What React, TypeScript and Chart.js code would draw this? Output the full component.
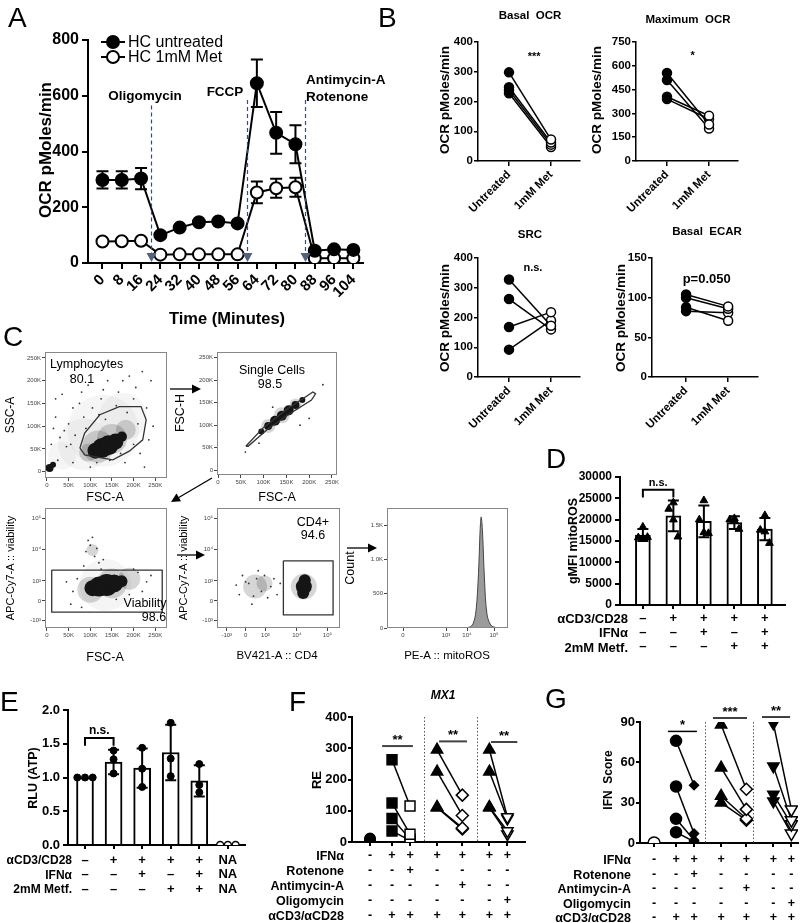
import React, { useEffect, useRef } from 'react';
import { Chart, registerables } from 'chart.js';

Chart.register(...registerables);
const FONT = "'Liberation Sans', Arial, Helvetica, sans-serif";
Chart.defaults.font.family = FONT;
Chart.defaults.color = '#000';

/* ---------------- Panel A ---------------- */
const A_TIMES = [0, 8, 16, 24, 32, 40, 48, 56, 64, 72, 80, 88, 96, 104];
const A_UNTREATED = [298, 298, 303, 100, 127, 146, 149, 142, 645, 467, 426, 44, 49, 47];
const A_UNTREATED_SD = [31, 31, 38, 0, 0, 0, 0, 0, 85, 75, 68, 0, 0, 0];
const A_MET = [77, 78, 80, 30, 31, 31, 31, 31, 253, 268, 272, 17, 17, 17];
const A_MET_SD = [0, 0, 0, 0, 0, 0, 0, 0, 39, 34, 34, 0, 0, 0];
const A_INJECT_TIMES = [20, 60, 84];
const A_INJECT_TOPS = [565, 585, 585];
const A_SERIES = ['HC untreated', 'HC 1mM Met'];

/* ---------------- Panel B ---------------- */
const B_GROUPS = ['Untreated', '1mM Met'];
const B_BASAL_UNT = [298, 248, 238, 228];
const B_BASAL_MET = [72, 62, 55, 47];
const B_MAX_UNT = [555, 510, 405, 390];
const B_MAX_MET = [230, 205, 285, 265];
const B_SRC_UNT = [328, 262, 168, 92];
const B_SRC_MET = [172, 160, 218, 190];
const B_ECAR_UNT = [104, 100, 88, 83];
const B_ECAR_MET = [89, 86, 71, 81];

/* ---------------- Panel C (flow) ---------------- */
const LIN_TICKS = [0, 50, 100, 150, 200, 250];
const LIN_LABELS = ['0', '50K', '100K', '150K', '200K', '250K'];
const LOG_TICKS = [-0.6, 0, 0.63, 1.63, 2.6];
const LOG_LABELS = ['-10³', '0', '10³', '10⁴', '10⁵'];
const HIST_X_TICKS = [0, 4.3, 6.4, 9.1];
const HIST_X_LABELS = ['0', '10³', '10⁴', '10⁵'];
const HIST_Y_TICKS = [0, 500, 1000, 1500];
const HIST_Y_LABELS = ['0', '500', '1.0K', '1.5K'];

const C1_HALO = [{ x: 130, y: 90, r: 36 }, { x: 85, y: 60, r: 26 }, { x: 175, y: 120, r: 24 }, { x: 35, y: 35, r: 14 }];
const C1_MID = [{ x: 118, y: 55, r: 16 }, { x: 150, y: 72, r: 15 }, { x: 182, y: 92, r: 10 }, { x: 95, y: 42, r: 9 }];
const C1_CORE = [{ x: 112, y: 46, r: 8 }, { x: 127, y: 52, r: 10 }, { x: 142, y: 58, r: 10 }, { x: 158, y: 66, r: 8 }, { x: 173, y: 77, r: 5 }, { x: 6, y: 8, r: 4 }, { x: 14, y: 15, r: 3 }];
const C1_DOTS = [[20, 120], [35, 170], [55, 210], [75, 150], [95, 190], [110, 230], [140, 200], [165, 175], [200, 160], [230, 140], [245, 100], [215, 40], [180, 20], [60, 20], [30, 75], [50, 105], [85, 120], [125, 160], [190, 210], [10, 60], [70, 230], [240, 200], [150, 240], [100, 10], [225, 10], [60, 140], [45, 55], [120, 125], [205, 185], [15, 95], [25, 25], [40, 90], [65, 80], [80, 175], [105, 140], [135, 115], [160, 145], [185, 130], [210, 105], [235, 70], [200, 60], [170, 40], [145, 25], [115, 20], [90, 95], [55, 60], [20, 160], [130, 180], [175, 200], [220, 220]];
const C1_GATE = [[76, 52], [87, 85], [122, 125], [167, 143], [217, 143], [229, 114], [221, 70], [190, 45], [152, 26], [87, 37], [76, 52]];

const C2_MID = [{ x: 110, y: 98, r: 7 }, { x: 140, y: 122, r: 8 }, { x: 170, y: 146, r: 6 }];
const C2_CORE = [{ x: 95, y: 86, r: 3 }, { x: 110, y: 98, r: 4 }, { x: 125, y: 110, r: 5 }, { x: 140, y: 121, r: 5 }, { x: 155, y: 133, r: 5 }, { x: 170, y: 145, r: 4 }, { x: 185, y: 156, r: 3 }];
const C2_DOTS = [[200, 115], [60, 40], [230, 190], [180, 100], [120, 140], [90, 60]];
const C2_GATE = [[61, 53], [100, 95], [150, 135], [195, 165], [208, 174], [214, 170], [205, 156], [160, 127], [110, 92], [66, 53], [61, 53]];

const C3_HALO = [{ x: 135, y: 0.5, r: 26 }];
const C3_MID = [{ x: 100, y: 0.35, r: 13 }, { x: 150, y: 0.55, r: 15 }, { x: 190, y: 0.7, r: 11 }, { x: 105, y: 1.6, r: 6 }];
const C3_CORE = [{ x: 105, y: 0.4, r: 8 }, { x: 120, y: 0.45, r: 10 }, { x: 138, y: 0.5, r: 11 }, { x: 155, y: 0.55, r: 9 }, { x: 172, y: 0.62, r: 6 }];
const C3_DOTS = [[95, 1.9], [110, 1.4], [100, 1.75], [120, 1.2], [60, 0.3], [210, 0.9], [230, 0.6], [80, -0.2], [190, 0.2], [45, 0.6], [90, 1.55], [115, 1.65], [105, 2.0], [125, 1.0], [70, 0.7], [220, 0.3], [200, 1.0], [160, 0.05], [240, 0.8], [85, 1.1], [130, 1.3], [55, -0.1]];
const C3_GATE = [[11, 0.97], [266, 0.97], [266, -0.35], [11, -0.35], [11, 0.97]];

const C4_MID = [{ x: 0.3, y: 0.45, r: 12 }, { x: 0.6, y: 0.55, r: 8 }, { x: 1.85, y: 0.45, r: 13 }];
const C4_CORE = [{ x: 1.85, y: 0.45, r: 8 }, { x: 1.83, y: 0.25, r: 6 }, { x: 1.88, y: 0.65, r: 6 }];
const C4_DOTS = [[-0.3, 0.5], [0.9, 0.7], [1.0, 0.2], [0.4, 0.95], [0.2, -0.1], [-0.1, 0.8], [0.7, 0.1], [0.1, 0.55], [0.5, 0.3], [0.8, 0.45], [-0.2, 0.2], [0.35, 0.7], [0.6, 0.8], [0.25, 0.15], [1.1, 0.55], [0.0, 0.6]];
const C4_GATE = [[1.2, 1.26], [2.78, 1.26], [2.78, -0.44], [1.2, -0.44], [1.2, 1.26]];

const C5_X = [5.8, 6.6, 7.0, 7.3, 7.55, 7.72, 7.82, 7.95, 8.15, 8.4, 8.8, 9.4];
const C5_COUNT = [0, 10, 60, 250, 800, 1450, 1620, 1400, 700, 200, 40, 0];

/* ---------------- Panel D ---------------- */
const D_POS = [1, 2, 3, 4, 5];
const D_MEAN = [16400, 20900, 19600, 19300, 17800];
const D_SD = [1400, 3600, 3700, 1500, 2600];
const D_POINTS = [[18300, 15800, 15600, 15900], [24000, 22500, 20000, 16000], [24500, 20000, 17000, 16800], [20300, 20000, 19800, 17800], [21000, 17600, 17200, 14500]];
const D_JITTER = [0, -0.15, 0, 0.15];
const D_ROWS = ['αCD3/CD28', 'IFNα', '2mM Metf.'];
const D_SIGNS = [['–', '+', '+', '+', '+'], ['–', '–', '+', '–', '+'], ['–', '–', '–', '+', '+']];

/* ---------------- Panel E ---------------- */
const E_POS = [1, 2, 3, 4, 5, 6];
const E_MEAN = [1.0, 1.23, 1.14, 1.37, 0.95];
const E_SD = [0, 0.18, 0.29, 0.41, 0.23];
const E_POINTS = [[1.0, 1.0, 1.0], [1.40, 1.27, 1.06], [1.44, 1.13, 0.86], [1.81, 1.28, 1.02], [1.20, 0.89, 0.78]];
const E_JITTER = [-0.27, 0, 0.27];
const E_NA = [0, 0, 0];
const E_ROWS = ['αCD3/CD28', 'IFNα', '2mM Metf.'];
const E_SIGNS = [['–', '+', '+', '+', '+', 'NA'], ['–', '–', '+', '–', '+', 'NA'], ['–', '–', '–', '+', '+', 'NA']];

/* ---------------- Panels F & G ---------------- */
const COL_POS = [1, 2, 2.82, 4.05, 5.2, 6.43, 7.25];
const TREAT_ROWS = ['IFNα', 'Rotenone', 'Antimycin-A', 'Oligomycin', 'αCD3/αCD28'];
const TREAT_SIGNS = [
  ['-', '+', '+', '+', '+', '+', '+'],
  ['-', '-', '+', '-', '-', '-', '-'],
  ['-', '-', '-', '-', '+', '-', '-'],
  ['-', '-', '-', '-', '-', '-', '+'],
  ['-', '+', '+', '+', '+', '+', '+'],
];
const F_CTRL = [5, 8, 10, 12];
const F_ROT_PRE = [263, 125, 75, 35];
const F_ROT_POST = [115, 25, 10, 5];
const F_ANT_PRE = [295, 225, 112, 110];
const F_ANT_POST = [150, 85, 45, 42];
const F_OLI_PRE = [295, 225, 112, 110];
const F_OLI_POST = [80, 75, 35, 25];
const F_SEPS = [3.45, 5.86];
const F_SIGS = [{ x1: 1.55, x2: 2.95, y: 307, t: '**' }, { x1: 4.14, x2: 5.41, y: 322, t: '**' }, { x1: 6.5, x2: 7.7, y: 320, t: '**' }];

const G_CTRL = [0];
const G_ROT_PRE = [76, 42, 18, 8];
const G_ROT_POST = [43, 7, 2, 1];
const G_ANT_PRE = [88, 56, 35, 30];
const G_ANT_POST = [40, 25, 18, 17];
const G_OLI_PRE = [89, 57, 36, 31];
const G_OLI_POST = [25, 17, 14, 7];
const G_SEPS = [3.32, 5.5];
const G_SIGS = [{ x1: 1.63, x2: 2.95, y: 83, t: '*' }, { x1: 3.68, x2: 5.23, y: 93, t: '***' }, { x1: 5.91, x2: 7.19, y: 93.7, t: '**' }];

/* ---------------- helpers ---------------- */
const zeroPad = (s: any) => { s.paddingLeft = 0; s.paddingRight = 0; s.paddingTop = 0; s.paddingBottom = 0; };

function yAxis(o: any) {
  return {
    type: 'linear', position: 'left', min: o.min, max: o.max, offset: false,
    afterBuildTicks: o.ticks ? (s: any) => { s.ticks = o.ticks.map((v: number) => ({ value: v })); } : undefined,
    afterFit: (s: any) => { s.width = o.width; zeroPad(s); },
    ticks: {
      stepSize: o.step, autoSkip: false, color: o.color ?? '#000', padding: o.pad ?? 3,
      font: { size: o.size, weight: o.bold === false ? 'normal' : 'bold' },
      callback: o.labels ?? ((v: any) => String(v)),
    },
    grid: { display: true, drawOnChartArea: false, drawTicks: true, offset: false, tickLength: o.tick ?? 5, color: o.color ?? '#000', lineWidth: o.lw ?? 1.5 },
    border: { display: o.border !== false, color: '#000', width: o.lw ?? 1.5 },
  };
}

function xAxis(o: any) {
  return {
    type: 'linear', position: 'bottom', min: o.min, max: o.max, offset: false,
    afterBuildTicks: (s: any) => { s.ticks = o.ticks.map((v: number) => ({ value: v })); },
    afterFit: (s: any) => { s.height = o.height; zeroPad(s); },
    ticks: {
      autoSkip: false, color: o.color ?? '#000', padding: o.pad ?? 3,
      minRotation: o.rot ?? 0, maxRotation: o.rot ?? 0,
      font: { size: o.size, weight: o.bold === false ? 'normal' : 'bold', lineHeight: o.lh ?? 1.2 },
      callback: (_v: any, i: number) => o.labels(i),
    },
    grid: { display: true, drawOnChartArea: false, drawTicks: true, offset: false, tickLength: o.tick ?? 5, color: o.color ?? '#000', lineWidth: o.lw ?? 1.5 },
    border: { display: o.border !== false, color: '#000', width: o.lw ?? 1.5 },
  };
}

function baseOptions(pad: number[], scales: any) {
  return {
    responsive: false, animation: false, events: [],
    layout: { autoPadding: false, padding: { left: pad[0], top: pad[1], right: pad[2], bottom: pad[3] } },
    plugins: { legend: { display: false }, tooltip: { enabled: false }, title: { display: false } },
    scales,
  };
}

function errorBars(id: string, specs: any[], hook: string, lw: number) {
  return {
    id,
    [hook]: (chart: any) => {
      const ctx = chart.ctx; const ys = chart.scales.y;
      ctx.save(); ctx.strokeStyle = '#000'; ctx.lineWidth = lw;
      specs.forEach((sp: any) => {
        const meta = chart.getDatasetMeta(sp.ds);
        const data = chart.data.datasets[sp.ds].data;
        meta.data.forEach((el: any, i: number) => {
          const e = sp.err[i]; if (!e) return;
          const v = data[i].y;
          const top = ys.getPixelForValue(v + e), bot = ys.getPixelForValue(v - e);
          const x = el.x; const h = sp.cap / 2;
          ctx.beginPath();
          ctx.moveTo(x, top); ctx.lineTo(x, bot);
          ctx.moveTo(x - h, top); ctx.lineTo(x + h, top);
          ctx.moveTo(x - h, bot); ctx.lineTo(x + h, bot);
          ctx.stroke();
        });
      });
      ctx.restore();
    },
  };
}

function textPlugin(id: string, items: any[]) {
  return {
    id,
    afterDatasetsDraw: (chart: any) => {
      const { ctx, scales: { x, y } } = chart;
      ctx.save(); ctx.fillStyle = '#000'; ctx.textAlign = 'center'; ctx.textBaseline = 'middle';
      items.forEach((it: any) => {
        ctx.font = `bold ${it.size}px ${FONT}`;
        ctx.fillText(it.t, x.getPixelForValue(it.x), y.getPixelForValue(it.y));
      });
      ctx.restore();
    },
  };
}

function bracketPlugin(id: string, b: any) {
  return {
    id,
    afterDatasetsDraw: (chart: any) => {
      const { ctx, scales: { x, y } } = chart;
      const x1 = x.getPixelForValue(b.x1), x2 = x.getPixelForValue(b.x2);
      const py = y.getPixelForValue(b.y), pl = y.getPixelForValue(b.leg);
      ctx.save(); ctx.strokeStyle = '#000'; ctx.lineWidth = 2;
      ctx.beginPath(); ctx.moveTo(x1, pl); ctx.lineTo(x1, py); ctx.lineTo(x2, py); ctx.lineTo(x2, pl); ctx.stroke();
      ctx.fillStyle = '#000'; ctx.font = `bold ${b.size}px ${FONT}`; ctx.textAlign = 'center'; ctx.textBaseline = 'bottom';
      ctx.fillText(b.t, (x1 + x2) / 2, py - 1);
      ctx.restore();
    },
  };
}

function sepSigPlugin(id: string, seps: number[], sigs: any[], lw: number, color: string) {
  return {
    id,
    beforeDatasetsDraw: (chart: any) => {
      const { ctx, chartArea, scales: { x } } = chart;
      ctx.save(); ctx.strokeStyle = '#555'; ctx.lineWidth = 1; ctx.setLineDash([1.5, 2]);
      seps.forEach((s) => { const px = Math.round(x.getPixelForValue(s)) + 0.5; ctx.beginPath(); ctx.moveTo(px, chartArea.top); ctx.lineTo(px, chartArea.bottom); ctx.stroke(); });
      ctx.restore();
    },
    afterDatasetsDraw: (chart: any) => {
      const { ctx, scales: { x, y } } = chart;
      ctx.save(); ctx.strokeStyle = color; ctx.lineWidth = lw; ctx.fillStyle = '#000';
      ctx.font = `bold 13px ${FONT}`; ctx.textAlign = 'center'; ctx.textBaseline = 'bottom';
      sigs.forEach((s) => {
        const x1 = x.getPixelForValue(s.x1), x2 = x.getPixelForValue(s.x2), py = y.getPixelForValue(s.y);
        ctx.beginPath(); ctx.moveTo(x1, py); ctx.lineTo(x2, py); ctx.stroke();
        ctx.fillText(s.t, (x1 + x2) / 2, py + 1);
      });
      ctx.restore();
    },
  };
}

const boxPlugin = {
  id: 'flowbox',
  afterDraw: (chart: any) => {
    const { ctx, chartArea: a } = chart;
    ctx.save(); ctx.strokeStyle = '#888'; ctx.lineWidth = 1;
    ctx.strokeRect(Math.round(a.left) + 0.5, Math.round(a.top) + 0.5, Math.round(a.right - a.left) - 1, Math.round(a.bottom - a.top) - 1);
    ctx.restore();
  },
};

/* ---------------- chart builders ---------------- */
function makeA() {
  const style = (fill: string) => ({ type: 'scatter', showLine: true, borderColor: '#000', borderWidth: 2, pointRadius: 6, pointBorderWidth: 2, pointBackgroundColor: fill, pointBorderColor: '#000' });
  const inject = {
    id: 'inject',
    afterDatasetsDraw: (chart: any) => {
      const { ctx, scales: { x, y } } = chart;
      A_INJECT_TIMES.forEach((t, i) => {
        const px = Math.round(x.getPixelForValue(t)) + 0.5;
        const top = y.getPixelForValue(A_INJECT_TOPS[i]); const bot = y.getPixelForValue(0);
        ctx.save();
        ctx.strokeStyle = '#3b4d6e'; ctx.lineWidth = 1.2; ctx.setLineDash([4, 3]);
        ctx.beginPath(); ctx.moveTo(px, top); ctx.lineTo(px, bot - 8); ctx.stroke();
        ctx.setLineDash([]); ctx.fillStyle = '#52627d';
        ctx.beginPath(); ctx.moveTo(px - 5, bot - 10); ctx.lineTo(px + 5, bot - 10); ctx.lineTo(px, bot - 1); ctx.closePath(); ctx.fill();
        ctx.restore();
      });
    },
  };
  const legend = {
    id: 'legendmarks',
    afterDraw: (chart: any) => {
      const ctx = chart.ctx;
      ctx.save(); ctx.strokeStyle = '#000'; ctx.lineWidth = 2;
      [[42, '#000'], [57, '#fff']].forEach(([yy, fill]: any) => {
        ctx.beginPath(); ctx.moveTo(101, yy); ctx.lineTo(125, yy); ctx.stroke();
        ctx.beginPath(); ctx.arc(113, yy, 6, 0, Math.PI * 2); ctx.fillStyle = fill; ctx.fill(); ctx.stroke();
      });
      ctx.restore();
    },
  };
  return {
    type: 'scatter',
    data: {
      datasets: [
        { label: A_SERIES[0], data: A_TIMES.map((t, i) => ({ x: t, y: A_UNTREATED[i] })), ...style('#000') },
        { label: A_SERIES[1], data: A_TIMES.map((t, i) => ({ x: t, y: A_MET[i] })), ...style('#fff') },
      ],
    },
    options: baseOptions([0, 40, 37, 0], {
      x: xAxis({ min: -6, max: 108, ticks: A_TIMES, labels: (i: number) => String(A_TIMES[i]), height: 37, size: 15, rot: 45, lw: 2, tick: 6, pad: 2 }),
      y: yAxis({ min: 0, max: 800, step: 200, width: 88, size: 16, lw: 2, tick: 6, pad: 3 }),
    }),
    plugins: [errorBars('eb', [{ ds: 0, err: A_UNTREATED_SD, cap: 12 }, { ds: 1, err: A_MET_SD, cap: 12 }], 'beforeDatasetsDraw', 2), inject, legend],
  };
}

function makePaired(unt: number[], met: number[], yMax: number, yStep: number, xMin: number, xMax: number, yWidth: number, pad: number[], xHeight: number, note: any) {
  return {
    type: 'scatter',
    data: {
      datasets: unt.map((v, i) => ({
        data: [{ x: 1, y: v }, { x: 2, y: met[i] }], showLine: true, borderColor: '#000', borderWidth: 1.5,
        pointRadius: 4.5, pointBorderWidth: 1.5, pointBorderColor: '#000', pointBackgroundColor: ['#000', '#fff'],
      })),
    },
    options: baseOptions(pad, {
      x: xAxis({ min: xMin, max: xMax, ticks: [1, 2], labels: (i: number) => B_GROUPS[i], height: xHeight, size: 11.5, rot: 45, lw: 1.5, tick: 5, pad: 2 }),
      y: yAxis({ min: 0, max: yMax, step: yStep, width: yWidth, size: 11.5, lw: 1.5, tick: 4, pad: 1 }),
    }),
    plugins: [textPlugin('note', [note])],
  };
}

function makeFlow(o: any) {
  const ds: any[] = [];
  (o.gates || []).forEach((g: number[][]) => ds.push({ type: 'scatter', data: g.map(([x, y]) => ({ x, y })), showLine: true, pointRadius: 0, borderColor: '#333', borderWidth: 1.3, clip: 0 }));
  if (o.core) ds.push({ type: 'bubble', data: o.core, backgroundColor: '#151515', borderWidth: 0, clip: 0 });
  if (o.dots) ds.push({ type: 'scatter', data: o.dots.map(([x, y]: number[]) => ({ x, y })), pointRadius: 0.9, backgroundColor: '#333', borderWidth: 0, clip: 0 });
  if (o.mid) ds.push({ type: 'bubble', data: o.mid, backgroundColor: 'rgba(0,0,0,0.16)', borderWidth: 0, clip: 0 });
  if (o.halo) ds.push({ type: 'bubble', data: o.halo, backgroundColor: 'rgba(0,0,0,0.04)', borderWidth: 0, clip: 0 });
  if (o.hist) ds.push({ type: 'scatter', data: o.hist, showLine: true, fill: 'origin', backgroundColor: '#9b9b9b', borderColor: '#444', borderWidth: 1, pointRadius: 0, tension: 0.35, clip: 0 });
  const fx = { color: '#444', size: 6, bold: false, tick: 3, lw: 1, border: false, pad: 1 };
  return {
    type: 'bubble',
    data: { datasets: ds },
    options: baseOptions(o.pad, {
      x: xAxis({ ...fx, min: o.xMin, max: o.xMax, ticks: o.xTicks, labels: (i: number) => o.xLabels[i], height: o.xHeight }),
      y: yAxis({ ...fx, min: o.yMin, max: o.yMax, ticks: o.yTicks, labels: (_v: any, i: number) => o.yLabels[i], width: o.yWidth }),
    }),
    plugins: [boxPlugin],
  };
}

function makeD() {
  const pts: any[] = [];
  D_POINTS.forEach((arr, g) => arr.forEach((v, j) => pts.push({ x: D_POS[g] + D_JITTER[j], y: v })));
  return {
    type: 'bar',
    data: {
      datasets: [
        { type: 'scatter', data: pts, pointStyle: 'triangle', pointRadius: 4.5, pointBackgroundColor: '#000', pointBorderColor: '#000', pointBorderWidth: 1 },
        { type: 'bar', data: D_POS.map((p, i) => ({ x: p, y: D_MEAN[i] })), backgroundColor: '#fff', borderColor: '#000', borderWidth: 2, barThickness: 15 },
      ],
    },
    options: baseOptions([0, 37, 15, 0], {
      x: xAxis({ min: 0.25, max: 5.66, ticks: D_POS, labels: (i: number) => D_SIGNS.map((r) => r[i]), height: 65, size: 13, lh: 1.1, tick: 4, pad: 2, lw: 2 }),
      y: yAxis({ min: 0, max: 30000, step: 5000, width: 80, size: 12, lw: 2, tick: 5 }),
    }),
    plugins: [errorBars('eb', [{ ds: 1, err: D_SD, cap: 11 }], 'afterDatasetsDraw', 2), bracketPlugin('br', { x1: 1, x2: 2, y: 27000, leg: 25200, t: 'n.s.', size: 11 })],
  };
}

function makeE() {
  const pts: any[] = [];
  E_POINTS.forEach((arr, g) => arr.forEach((v, j) => pts.push({ x: E_POS[g] + E_JITTER[j] * (g === 0 ? 1 : 0), y: v })));
  return {
    type: 'bar',
    data: {
      datasets: [
        { type: 'scatter', data: pts, pointRadius: 3.5, pointBackgroundColor: '#000', pointBorderColor: '#000', pointBorderWidth: 1 },
        { type: 'scatter', data: E_NA.map((v, j) => ({ x: E_POS[5] + E_JITTER[j], y: v })), pointRadius: 3.5, pointBackgroundColor: '#fff', pointBorderColor: '#000', pointBorderWidth: 1.5 },
        { type: 'bar', data: E_MEAN.map((v, i) => ({ x: E_POS[i], y: v })), backgroundColor: '#fff', borderColor: '#000', borderWidth: 2, barThickness: 17 },
      ],
    },
    options: baseOptions([0, 30, 25, 0], {
      x: xAxis({ min: 0.405, max: 6.6, ticks: E_POS, labels: (i: number) => E_SIGNS.map((r) => r[i]), height: 78, size: 13, lh: 1.12, tick: 4, pad: 4, lw: 2 }),
      y: yAxis({ min: 0, max: 2, step: 0.5, width: 68, size: 13, lw: 2, tick: 5, labels: (v: any) => Number(v).toFixed(1) }),
    }),
    plugins: [errorBars('eb', [{ ds: 2, err: E_SD, cap: 11 }], 'afterDatasetsDraw', 2), bracketPlugin('br', { x1: 1, x2: 2, y: 1.585, leg: 1.47, t: 'n.s.', size: 12 })],
  };
}

function pairDatasets(groups: any[]) {
  const out: any[] = [];
  groups.forEach((g) => g.pre.forEach((v: number, i: number) => {
    out.push({
      type: 'scatter', showLine: true, borderColor: '#000', borderWidth: 1.5,
      data: [{ x: COL_POS[g.a], y: v }, { x: COL_POS[g.b], y: g.post[i] }],
      pointStyle: [g.s1.style, g.s2.style], pointBackgroundColor: [g.s1.fill, g.s2.fill],
      pointRotation: [g.s1.rot, g.s2.rot], pointRadius: [g.s1.r, g.s2.r],
      pointBorderColor: '#000', pointBorderWidth: 1.5,
    });
  }));
  return out;
}

function makeTreat(o: any) {
  return {
    type: 'scatter',
    data: {
      datasets: [
        { type: 'scatter', data: o.ctrl.map((v: number) => ({ x: COL_POS[0], y: v })), pointStyle: 'circle', pointRadius: o.ctrlR, pointBackgroundColor: o.ctrlFill, pointBorderColor: '#000', pointBorderWidth: 1.5 },
        ...pairDatasets(o.groups),
      ],
    },
    options: baseOptions(o.pad, {
      x: xAxis({ min: o.xMin, max: o.xMax, ticks: COL_POS, labels: (i: number) => TREAT_SIGNS.map((r) => r[i]), height: o.xHeight, size: 12.5, lh: o.lh, tick: 4, pad: o.tpad, lw: 2 }),
      y: yAxis({ min: 0, max: o.yMax, step: o.yStep, width: o.yWidth, size: 13, lw: 2, tick: 4, pad: 1 }),
    }),
    plugins: [sepSigPlugin('ss', o.seps, o.sigs, o.sigLw, o.sigColor)],
  };
}

const filled = (style: string, r: number, rot = 0) => ({ style, fill: '#000', r, rot });
const open = (style: string, r: number, rot = 0) => ({ style, fill: '#fff', r, rot });

function makeF() {
  return makeTreat({
    ctrl: F_CTRL, ctrlR: 5, ctrlFill: '#000',
    groups: [
      { a: 1, b: 2, pre: F_ROT_PRE, post: F_ROT_POST, s1: filled('rect', 7), s2: open('rect', 7) },
      { a: 3, b: 4, pre: F_ANT_PRE, post: F_ANT_POST, s1: filled('triangle', 6.5), s2: open('rectRot', 6) },
      { a: 5, b: 6, pre: F_OLI_PRE, post: F_OLI_POST, s1: filled('triangle', 6.5), s2: open('triangle', 6.5, 180) },
    ],
    pad: [0, 27, 15, 0], xMin: 0.18, xMax: 8.05, xHeight: 81, lh: 1.2, tpad: 2,
    yMax: 400, yStep: 100, yWidth: 72, seps: F_SEPS, sigs: F_SIGS, sigLw: 2, sigColor: '#444',
  });
}

function makeG() {
  return makeTreat({
    ctrl: G_CTRL, ctrlR: 6, ctrlFill: '#fff',
    groups: [
      { a: 1, b: 2, pre: G_ROT_PRE, post: G_ROT_POST, s1: filled('circle', 5.5), s2: filled('rectRot', 4.5) },
      { a: 3, b: 4, pre: G_ANT_PRE, post: G_ANT_POST, s1: filled('triangle', 6.5), s2: open('rectRot', 6) },
      { a: 5, b: 6, pre: G_OLI_PRE, post: G_OLI_POST, s1: filled('triangle', 6.5, 180), s2: open('triangle', 7, 180) },
    ],
    pad: [0, 32, 2, 0], xMin: 0.36, xMax: 7.55, xHeight: 80, lh: 1.16, tpad: 5.5,
    yMax: 90, yStep: 30, yWidth: 80, seps: G_SEPS, sigs: G_SIGS, sigLw: 1.5, sigColor: '#000',
  });
}

/* ---------------- React components ---------------- */
function ChartCanvas({ box, make }: { box: number[]; make: () => any }) {
  const ref = useRef<HTMLCanvasElement | null>(null);
  useEffect(() => {
    const chart = new Chart(ref.current as HTMLCanvasElement, make());
    return () => chart.destroy();
  }, []);
  return <canvas ref={ref} width={box[2]} height={box[3]} style={{ position: 'absolute', left: box[0], top: box[1], width: box[2], height: box[3], display: 'block' }} />;
}

function Txt({ x, y, t, s = 12, b = false, a = 'c', r = 0, i = false }: any) {
  const tx = a === 'c' ? '-50%' : a === 'r' ? '-100%' : '0';
  return (
    <div style={{ position: 'absolute', left: x, top: y, transform: `translate(${tx}, -50%) rotate(${r}deg)`, fontFamily: FONT, fontSize: s, fontWeight: b ? 'bold' : 'normal', fontStyle: i ? 'italic' : 'normal', lineHeight: 1, whiteSpace: 'pre', color: '#000' }}>{t}</div>
  );
}

function Arrow({ x1, y1, x2, y2 }: any) {
  const ang = Math.atan2(y2 - y1, x2 - x1);
  const L = 9, W = 4.5;
  const bx = x2 - L * Math.cos(ang), by = y2 - L * Math.sin(ang);
  const p1 = `${bx + W * Math.sin(ang)},${by - W * Math.cos(ang)}`;
  const p2 = `${bx - W * Math.sin(ang)},${by + W * Math.cos(ang)}`;
  return (
    <g>
      <line x1={x1} y1={y1} x2={bx} y2={by} stroke="#000" strokeWidth={1.3} />
      <polygon points={`${x2},${y2} ${p1} ${p2}`} fill="#000" />
    </g>
  );
}

export default function App() {
  const texts: any[] = [
    // panel letters
    { x: 8, y: 18, t: 'A', s: 28, a: 'l' }, { x: 378, y: 18, t: 'B', s: 28, a: 'l' },
    { x: 3, y: 337, t: 'C', s: 28, a: 'l' }, { x: 546, y: 459, t: 'D', s: 28, a: 'l' },
    { x: 0, y: 702, t: 'E', s: 28, a: 'l' }, { x: 289, y: 702, t: 'F', s: 28, a: 'l' },
    { x: 545, y: 699, t: 'G', s: 28, a: 'l' },
    // A
    { x: 45, y: 150, t: 'OCR pMoles/min', s: 17, b: true, r: -90 },
    { x: 227, y: 318, t: 'Time (Minutes)', s: 16.5, b: true },
    { x: 128, y: 42, t: A_SERIES[0], s: 16, a: 'l' }, { x: 128, y: 57, t: A_SERIES[1], s: 16, a: 'l' },
    { x: 145, y: 96, t: 'Oligomycin', s: 13.5, b: true }, { x: 225, y: 92, t: 'FCCP', s: 13.5, b: true },
    { x: 306, y: 80, t: 'Antimycin-A', s: 13.5, b: true, a: 'l' }, { x: 306, y: 97, t: 'Rotenone', s: 13.5, b: true, a: 'l' },
    // B
    { x: 530, y: 16, t: 'Basal  OCR', s: 11.5, b: true }, { x: 688, y: 20, t: 'Maximum  OCR', s: 11.5, b: true },
    { x: 530, y: 235, t: 'SRC', s: 11.5, b: true }, { x: 707, y: 232, t: 'Basal  ECAR', s: 11.5, b: true },
    { x: 445, y: 100, t: 'OCR pMoles/min', s: 13.5, b: true, r: -90 }, { x: 597, y: 100, t: 'OCR pMoles/min', s: 13.5, b: true, r: -90 },
    { x: 445, y: 318, t: 'OCR pMoles/min', s: 13.5, b: true, r: -90 }, { x: 621, y: 318, t: 'OCR pMoles/min', s: 13.5, b: true, r: -90 },
    // C
    { x: 10, y: 415, t: 'SSC-A', s: 12, r: -90 }, { x: 50, y: 364, t: 'Lymphocytes', s: 12.5, a: 'l' }, { x: 82, y: 379, t: '80.1', s: 12.5 },
    { x: 105, y: 497, t: 'FSC-A', s: 12.5 }, { x: 180, y: 413, t: 'FSC-H', s: 12.5, r: -90 },
    { x: 272, y: 370, t: 'Single Cells', s: 12.5 }, { x: 270, y: 384, t: '98.5', s: 12.5 }, { x: 277, y: 497, t: 'FSC-A', s: 12.5 },
    { x: 10, y: 568, t: 'APC-Cy7-A :: viability', s: 11, r: -90 }, { x: 145, y: 603, t: 'Viability', s: 12.5 }, { x: 154, y: 617, t: '98.6', s: 12.5 },
    { x: 105, y: 657, t: 'FSC-A', s: 12.5 }, { x: 183, y: 568, t: 'APC-Cy7-A :: viability', s: 11, r: -90 },
    { x: 313, y: 522, t: 'CD4+', s: 12.5 }, { x: 313, y: 535, t: '94.6', s: 12.5 }, { x: 277, y: 656, t: 'BV421-A :: CD4', s: 11.5 },
    { x: 350, y: 568, t: 'Count', s: 12.5, r: -90 }, { x: 447, y: 656, t: 'PE-A :: mitoROS', s: 11.5 },
    // D
    { x: 573, y: 541, t: 'gMFI mitoROS', s: 12.5, b: true, r: -90 },
    ...D_ROWS.map((t, k) => ({ x: 628, y: 618 + k * 14.3, t, s: 13, b: true, a: 'r' })),
    // E
    { x: 33, y: 778, t: 'RLU (ATP)', s: 12.5, b: true, r: -90 },
    ...E_ROWS.map((t, k) => ({ x: 72, y: 860 + k * 14.6, t, s: 12, b: true, a: 'r' })),
    // F
    { x: 316, y: 780, t: 'RE', s: 13, b: true, r: -90 }, { x: 443, y: 695, t: 'MX1', s: 12, b: true, i: true },
    ...TREAT_ROWS.map((t, k) => ({ x: 344, y: 855.5 + k * 15, t, s: 12.5, b: true, a: 'r' })),
    // G
    { x: 608, y: 780, t: 'IFN  Score', s: 12, b: true, r: -90 },
    ...TREAT_ROWS.map((t, k) => ({ x: 631, y: 860 + k * 14.5, t, s: 12.5, b: true, a: 'r' })),
  ];

  const flowC1 = () => makeFlow({ pad: [0, 12, 8, 0], yWidth: 45, xHeight: 22, xMin: -4.5, xMax: 277, yMin: -14, yMax: 263, xTicks: LIN_TICKS, xLabels: LIN_LABELS, yTicks: LIN_TICKS, yLabels: LIN_LABELS, gates: [C1_GATE], core: C1_CORE, mid: C1_MID, halo: C1_HALO, dots: C1_DOTS });
  const flowC2 = () => makeFlow({ pad: [0, 12, 13, 0], yWidth: 37, xHeight: 25, xMin: -2.2, xMax: 261, yMin: -11, yMax: 263, xTicks: LIN_TICKS, xLabels: LIN_LABELS, yTicks: LIN_TICKS, yLabels: LIN_LABELS, gates: [C2_GATE], core: C2_CORE, mid: C2_MID, dots: C2_DOTS });
  const flowC3 = () => makeFlow({ pad: [0, 8, 8, 0], yWidth: 45, xHeight: 22, xMin: -4.5, xMax: 277, yMin: -0.85, yMax: 2.92, xTicks: LIN_TICKS, xLabels: LIN_LABELS, yTicks: LOG_TICKS, yLabels: LOG_LABELS, gates: [C3_GATE], core: C3_CORE, mid: C3_MID, halo: C3_HALO, dots: C3_DOTS });
  const flowC4 = () => makeFlow({ pad: [0, 8, 10, 0], yWidth: 37, xHeight: 22, xMin: -0.91, xMax: 3.0, yMin: -0.85, yMax: 2.92, xTicks: LOG_TICKS, xLabels: LOG_LABELS, yTicks: LOG_TICKS, yLabels: LOG_LABELS, gates: [C4_GATE], core: C4_CORE, mid: C4_MID, dots: C4_DOTS });
  const flowC5 = () => makeFlow({ pad: [0, 8, 12, 0], yWidth: 37, xHeight: 22, xMin: -1.6, xMax: 10.5, yMin: 0, yMax: 1750, xTicks: HIST_X_TICKS, xLabels: HIST_X_LABELS, yTicks: HIST_Y_TICKS, yLabels: HIST_Y_LABELS, hist: C5_X.map((x, i) => ({ x, y: C5_COUNT[i] })) });

  return (
    <div style={{ position: 'absolute', left: 0, top: 0, width: 800, height: 923, background: '#fff', overflow: 'hidden' }}>
      <ChartCanvas box={[0, 0, 400, 300]} make={makeA} />
      <ChartCanvas box={[400, 0, 200, 220]} make={() => makePaired(B_BASAL_UNT, B_BASAL_MET, 400, 100, 0.262, 2.69, 78, [0, 42, 20, 0], 59, { x: 1.6, y: 350, t: '***', size: 11 })} />
      <ChartCanvas box={[560, 0, 240, 220]} make={() => makePaired(B_MAX_UNT, B_MAX_MET, 750, 150, 0.262, 2.69, 76, [0, 42, 62, 0], 59, { x: 1.61, y: 662, t: '*', size: 11 })} />
      <ChartCanvas box={[400, 220, 200, 220]} make={() => makePaired(B_SRC_UNT, B_SRC_MET, 400, 100, 0.262, 2.69, 78, [0, 38, 20, 0], 63, { x: 1.57, y: 366, t: 'n.s.', size: 11 })} />
      <ChartCanvas box={[560, 220, 240, 220]} make={() => makePaired(B_ECAR_UNT, B_ECAR_MET, 150, 50, 0.19, 2.71, 92, [0, 38, 42, 0], 63, { x: 1.49, y: 123.5, t: 'p=0.050', size: 13 })} />
      <ChartCanvas box={[0, 340, 175, 160]} make={flowC1} />
      <ChartCanvas box={[180, 340, 170, 160]} make={flowC2} />
      <ChartCanvas box={[0, 500, 175, 150]} make={flowC3} />
      <ChartCanvas box={[180, 500, 170, 150]} make={flowC4} />
      <ChartCanvas box={[350, 500, 170, 150]} make={flowC5} />
      <ChartCanvas box={[540, 440, 260, 230]} make={makeD} />
      <ChartCanvas box={[0, 680, 270, 243]} make={makeE} />
      <ChartCanvas box={[280, 690, 260, 233]} make={makeF} />
      <ChartCanvas box={[560, 690, 240, 233]} make={makeG} />
      <svg width={800} height={923} style={{ position: 'absolute', left: 0, top: 0, pointerEvents: 'none' }}>
        <Arrow x1={170} y1={389} x2={201} y2={389} />
        <Arrow x1={212} y1={478} x2={171} y2={502} />
        <Arrow x1={177} y1={555} x2={205} y2={555} />
        <Arrow x1={347} y1={548} x2={377} y2={548} />
      </svg>
      {texts.map((p, k) => <Txt key={k} {...p} />)}
    </div>
  );
}
